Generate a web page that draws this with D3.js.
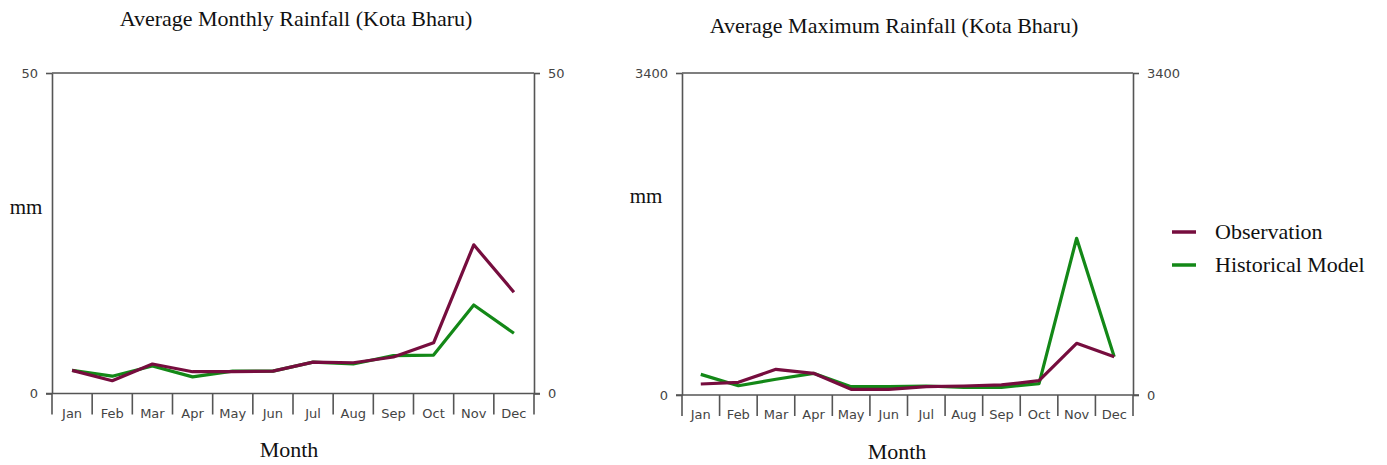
<!DOCTYPE html>
<html>
<head>
<meta charset="utf-8">
<script src="https://cdn.jsdelivr.net/npm/d3@7"></script>
<style>
  html, body { margin: 0; padding: 0; background: #fff; }
  svg { display: block; }
  .title, .axis-title, .legend text { font-family: "Liberation Serif", "Times New Roman", serif; fill: #111; }
  .tick text { font-family: "DejaVu Sans", Tahoma, sans-serif; fill: #444; }
</style>
</head>
<body>
<svg id="chart" width="1387" height="465"></svg>
<script>
// Months on the category axis
const months = ["Jan", "Feb", "Mar", "Apr", "May", "Jun", "Jul", "Aug", "Sep", "Oct", "Nov", "Dec"];

// Average monthly rainfall, Kota Bharu (mm)
const monthlyObservation = [3.6, 2.0, 4.6, 3.4, 3.4, 3.5, 4.9, 4.8, 5.7, 7.9, 23.2, 15.8];
const monthlyHistorical  = [3.6, 2.7, 4.3, 2.6, 3.5, 3.5, 4.9, 4.6, 5.9, 6.0, 13.8, 9.4];

// Average maximum rainfall, Kota Bharu (mm)
const maximumObservation = [116, 134, 271, 229, 60, 60, 88, 95, 106, 151, 546, 405];
const maximumHistorical  = [218, 98, 166, 229, 88, 88, 95, 81, 81, 120, 1655, 405];

// Value-axis tick labels
const monthlyTicks = [0, 50];
const maximumTicks = [0, 3400];

const seriesNames = ["Observation", "Historical Model"];
const colors = { "Observation": "#760d3e", "Historical Model": "#138817" };

const svg = d3.select("#chart");

function drawPanel(cfg) {
  const g = svg.append("g");
  const x = d3.scaleBand().domain(months).range([cfg.left, cfg.right]).padding(0);
  const y = d3.scaleLinear().domain([0, d3.max(cfg.ticks)]).range([cfg.bottom, cfg.top]);
  const axisColor = "#555";
  const fmt = d3.format("d");

  // Frame: top border line
  g.append("line")
    .attr("x1", cfg.left).attr("x2", cfg.right)
    .attr("y1", cfg.top).attr("y2", cfg.top)
    .attr("stroke", axisColor).attr("stroke-width", 1.6);

  // Left and right value axes
  const yl = g.append("g").attr("transform", `translate(${cfg.left},0)`)
    .call(d3.axisLeft(y).tickValues(cfg.ticks).tickFormat(fmt).tickSize(6).tickSizeOuter(0).tickPadding(8));
  const yr = g.append("g").attr("transform", `translate(${cfg.right},0)`)
    .call(d3.axisRight(y).tickValues(cfg.ticks).tickFormat(fmt).tickSize(6).tickSizeOuter(0).tickPadding(8));
  [yl, yr].forEach(a => {
    a.select(".domain").attr("stroke", axisColor).attr("stroke-width", 1.6);
    a.selectAll(".tick line").attr("stroke", axisColor).attr("stroke-width", 1.6);
    a.selectAll(".tick text").attr("font-size", 13);
  });

  // Category axis: labels centred in bands, tick marks on band boundaries
  const xa = g.append("g").attr("transform", `translate(0,${cfg.bottom})`)
    .call(d3.axisBottom(x).tickSize(0).tickPadding(15));
  xa.select(".domain").remove();
  xa.selectAll(".tick text").attr("font-size", 13);
  g.append("line")
    .attr("x1", cfg.left - 6).attr("x2", cfg.right + 6)
    .attr("y1", cfg.bottom).attr("y2", cfg.bottom)
    .attr("stroke", axisColor).attr("stroke-width", 1.6);
  const bounds = months.map(m => x(m)).concat([x(months[months.length - 1]) + x.bandwidth()]);
  g.selectAll(".band-tick").data(bounds).enter().append("line")
    .attr("class", "band-tick")
    .attr("x1", d => d).attr("x2", d => d)
    .attr("y1", cfg.bottom).attr("y2", cfg.bottom + 21)
    .attr("stroke", axisColor).attr("stroke-width", 1.6);

  // Series lines (model first, observation on top)
  const line = d3.line().x((d, i) => x(months[i]) + x.bandwidth() / 2).y(d => y(d));
  [["Historical Model", cfg.historical], ["Observation", cfg.observation]].forEach(([name, vals]) => {
    g.append("path").datum(vals)
      .attr("d", line)
      .attr("fill", "none")
      .attr("stroke", colors[name])
      .attr("stroke-width", 3.2)
      .attr("stroke-linejoin", "round");
  });

  // Titles
  g.append("text").attr("class", "title")
    .attr("x", cfg.titleX).attr("y", cfg.titleY)
    .attr("text-anchor", "middle").attr("font-size", 22)
    .text(cfg.title);
  g.append("text").attr("class", "axis-title")
    .attr("x", cfg.unitX).attr("y", cfg.unitY)
    .attr("text-anchor", "middle").attr("font-size", 21)
    .text("mm");
  g.append("text").attr("class", "axis-title")
    .attr("x", cfg.monthX).attr("y", cfg.monthY)
    .attr("text-anchor", "middle").attr("font-size", 22)
    .text("Month");
}

drawPanel({
  left: 52, right: 534, top: 73, bottom: 393.5,
  ticks: monthlyTicks,
  observation: monthlyObservation, historical: monthlyHistorical,
  title: "Average Monthly Rainfall (Kota Bharu)", titleX: 296, titleY: 26,
  unitX: 26, unitY: 214, monthX: 289, monthY: 457
});

drawPanel({
  left: 682, right: 1133, top: 73, bottom: 395,
  ticks: maximumTicks,
  observation: maximumObservation, historical: maximumHistorical,
  title: "Average Maximum Rainfall (Kota Bharu)", titleX: 894, titleY: 33,
  unitX: 646, unitY: 203, monthX: 897, monthY: 459
});

// Legend
const legend = svg.append("g").attr("class", "legend");
seriesNames.forEach((name, i) => {
  const ly = 232 + i * 33;
  legend.append("line")
    .attr("x1", 1172).attr("x2", 1196).attr("y1", ly).attr("y2", ly)
    .attr("stroke", colors[name]).attr("stroke-width", 3.5);
  legend.append("text")
    .attr("x", 1215).attr("y", ly + 7)
    .attr("font-size", 22)
    .text(name);
});
</script>
</body>
</html>
